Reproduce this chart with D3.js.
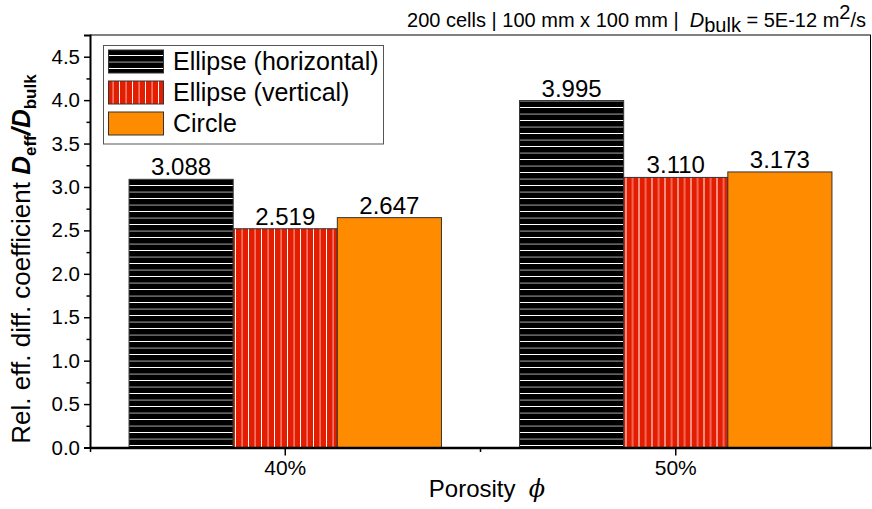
<!DOCTYPE html>
<html>
<head>
<meta charset="utf-8">
<script src="https://cdn.jsdelivr.net/npm/d3@7"></script>
<style>
  html, body { margin: 0; padding: 0; background: #fff; }
  svg { display: block; font-family: "Liberation Sans", Arial, sans-serif; }
</style>
</head>
<body>
<svg id="chart" width="872" height="509"></svg>
<script>
// Porosity groups and shape series
const categories = ["40%", "50%"];
const seriesNames = ["Ellipse (horizontal)", "Ellipse (vertical)", "Circle"];
const ellipseHorizontal = [3.088, 3.995];
const ellipseVertical = [2.519, 3.110];
const circle = [2.647, 3.173];
const seriesValues = [ellipseHorizontal, ellipseVertical, circle];
const yTicks = [0, 0.5, 1.0, 1.5, 2.0, 2.5, 3.0, 3.5, 4.0, 4.5];

const svg = d3.select("#chart");
const W = 872, H = 509;
const margin = { left: 90, right: 1, top: 35, bottom: 61.5 };
const x0 = margin.left, x1 = W - margin.right;
const yTop = margin.top, yBot = H - margin.bottom;

const x = d3.scaleBand().domain(categories).range([x0, x1]).paddingInner(0).paddingOuter(0);
const xs = d3.scaleBand().domain(d3.range(seriesNames.length))
  .range([x.bandwidth() * 0.1, x.bandwidth() * 0.9]).padding(0);
const y = d3.scaleLinear().domain([0, 4.75]).range([yBot, yTop]);

// Fill patterns
const defs = svg.append("defs");
const ph = defs.append("pattern").attr("id", "hstripe")
  .attr("patternUnits", "userSpaceOnUse").attr("width", 8).attr("height", 13)
  .attr("y", 0);
ph.append("rect").attr("width", 8).attr("height", 13).attr("fill", "#000");
ph.append("rect").attr("y", 3).attr("width", 8).attr("height", 1).attr("fill", "#ffffff");
ph.append("rect").attr("y", 9.5).attr("width", 8).attr("height", 1.2).attr("fill", "#8a8a8a");

const pv = defs.append("pattern").attr("id", "vstripe")
  .attr("patternUnits", "userSpaceOnUse").attr("width", 13).attr("height", 8);
pv.append("rect").attr("width", 13).attr("height", 8).attr("fill", "#e51d00");
pv.append("rect").attr("x", 2).attr("width", 1).attr("height", 8).attr("fill", "#ffffff");
pv.append("rect").attr("x", 8.5).attr("width", 1.2).attr("height", 8).attr("fill", "#f59a90");

const fills = ["url(#hstripe)", "url(#vstripe)", "#ff8c00"];

// Plot frame (top and right)
svg.append("line").attr("x1", x0).attr("x2", x1).attr("y1", yTop).attr("y2", yTop)
  .attr("stroke", "#000").attr("stroke-width", 1);
svg.append("line").attr("x1", x1 - 0.5).attr("x2", x1 - 0.5).attr("y1", yTop).attr("y2", yBot)
  .attr("stroke", "#000").attr("stroke-width", 1);

// Bars with value labels
const groups = svg.append("g").selectAll("g").data(categories).join("g")
  .attr("transform", d => `translate(${x(d)},0)`);
groups.each(function (cat, ci) {
  const g = d3.select(this);
  seriesValues.forEach((vals, si) => {
    const v = vals[ci];
    g.append("rect")
      .attr("x", xs(si)).attr("width", xs.bandwidth())
      .attr("y", y(v)).attr("height", y(0) - y(v))
      .attr("fill", fills[si]).attr("stroke", "#333").attr("stroke-width", 1);
    g.append("text")
      .attr("x", xs(si) + xs.bandwidth() / 2).attr("y", y(v) - 4)
      .attr("text-anchor", "middle").attr("font-size", 24).attr("fill", "#000")
      .text(v.toFixed(3));
  });
});

// Y axis
const yAxis = svg.append("g").attr("transform", `translate(${x0},0)`)
  .call(d3.axisLeft(y).tickValues(yTicks).tickFormat(d3.format(".1f")).tickSize(6).tickPadding(4));
yAxis.select(".domain").attr("stroke-width", 2);
yAxis.selectAll(".tick line").attr("stroke-width", 1.5);
yAxis.selectAll("text").attr("font-size", 20.5).attr("font-family", "Liberation Sans, Arial, sans-serif");
svg.append("g").attr("transform", `translate(${x0},0)`)
  .call(d3.axisLeft(y).tickValues(d3.range(0.25, 4.75, 0.5)).tickFormat("").tickSize(3.5))
  .call(g => g.select(".domain").remove())
  .selectAll("line").attr("stroke-width", 1.5);

// X axis
const xAxis = svg.append("g").attr("transform", `translate(0,${yBot})`)
  .call(d3.axisBottom(x).tickSize(8).tickPadding(5).tickSizeOuter(0));
xAxis.select(".domain").attr("stroke-width", 2.5);
xAxis.selectAll(".tick line").attr("stroke-width", 1.5);
xAxis.selectAll("text").attr("font-size", 21).attr("font-family", "Liberation Sans, Arial, sans-serif");
// band boundary minor ticks
svg.append("g").selectAll("line").data([x0 + 0.5, x(categories[1])]).join("line")
  .attr("x1", d => d).attr("x2", d => d).attr("y1", yBot).attr("y2", yBot + 4.5)
  .attr("stroke", "#000").attr("stroke-width", 1.5);

// X title
const xt = svg.append("text").attr("x", 487).attr("y", 497).attr("text-anchor", "middle")
  .attr("font-size", 24);
xt.append("tspan").text("Porosity\u00a0\u00a0");
xt.append("tspan").attr("font-style", "italic").attr("font-family", "DejaVu Serif, serif").text("\u03d5");

// Y title
const yt = svg.append("text").attr("transform", `translate(30,259) rotate(-90)`)
  .attr("text-anchor", "middle").attr("font-size", 26);
yt.append("tspan").text("Rel. eff. diff. coefficient ");
yt.append("tspan").attr("font-weight", "bold").attr("font-style", "italic").text("D");
yt.append("tspan").attr("font-weight", "bold").attr("font-size", 17).attr("dy", 6).text("eff");
yt.append("tspan").attr("font-weight", "bold").attr("font-style", "italic").attr("dy", -6).text("/D");
yt.append("tspan").attr("font-weight", "bold").attr("font-size", 17).attr("dy", 6).text("bulk");

// Header
const ht = svg.append("text").attr("x", 866).attr("y", 27).attr("text-anchor", "end")
  .attr("font-size", 20);
ht.append("tspan").text("200 cells | 100 mm x 100 mm |\u00a0\u00a0");
ht.append("tspan").attr("font-style", "italic").text("D");
ht.append("tspan").attr("dy", 5).text("bulk");
ht.append("tspan").attr("dy", -5).text(" = 5E-12 m");
ht.append("tspan").attr("dy", -8).text("2");
ht.append("tspan").attr("dy", 8).text("/s");

// Legend
const lg = svg.append("g");
lg.append("rect").attr("x", 103.5).attr("y", 45.5).attr("width", 280).attr("height", 98.5)
  .attr("fill", "#fff").attr("stroke", "#555").attr("stroke-width", 1);
seriesNames.forEach((name, i) => {
  const yy = 50 + i * 31;
  lg.append("rect").attr("x", 108.5).attr("y", yy).attr("width", 55).attr("height", 23)
    .attr("fill", fills[i]).attr("stroke", "#333").attr("stroke-width", 1);
  lg.append("text").attr("x", 173).attr("y", yy + 20).attr("font-size", 25).text(name);
});
</script>
</body>
</html>
